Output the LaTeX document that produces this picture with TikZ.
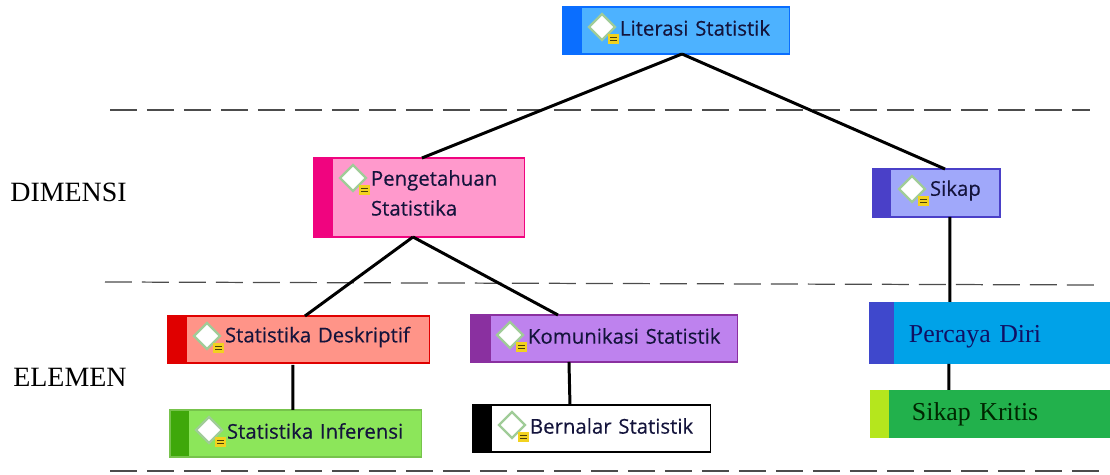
\documentclass[tikz,border=0pt]{standalone}
\usepackage{fontspec}
\setmainfont{Liberation Serif}
\setsansfont{Open Sans}
\usepackage{tikz}
\usetikzlibrary{positioning}
\definecolor{birumuda}{HTML}{4DB2FF}
\definecolor{birutua}{HTML}{0A6EFF}
\definecolor{merahmuda}{HTML}{FF99CC}
\definecolor{merahtua}{HTML}{F0047F}
\definecolor{unggumuda}{HTML}{A0A8FA}
\definecolor{unggutua}{HTML}{4A40C8}
\definecolor{salem}{HTML}{FF9488}
\definecolor{merah}{HTML}{E00000}
\definecolor{hijaumuda}{HTML}{8CE65A}
\definecolor{hijautua}{HTML}{3FA80A}
\definecolor{lembayung}{HTML}{BE82EE}
\definecolor{lembayungtua}{HTML}{8A30A0}
\definecolor{langit}{HTML}{00A2E8}
\definecolor{nila}{HTML}{3F48CC}
\definecolor{rumput}{HTML}{22B14C}
\definecolor{limau}{HTML}{B5E61D}
\definecolor{ikonhijau}{HTML}{A0CC98}
\definecolor{ikonkuning}{HTML}{F2D21F}
\definecolor{tulisan}{HTML}{14143C}
\newcommand{\baris}[2][0.05cm]{\hspace*{1.14cm}\raisebox{#1}[\height][\depth]{#2}}
\tikzset{
    kotak/.style n args={3}{rectangle, anchor=north west, inner sep=0, outer sep=0,
        align=left, fill=#1, line width=0.6pt, path picture={\fill[#2] (path picture bounding box.south west)
        rectangle ([xshift=#3]path picture bounding box.north west);}},
    isi/.style={font=\sffamily\fontsize{11.6}{17}\selectfont\addfontfeature{FakeBold=0.3}, text=tulisan},
    serif/.style={font=\rmfamily\fontsize{14.7}{17}\selectfont},
    judul/.style={font=\rmfamily\fontsize{15.9}{18}\selectfont, anchor=west, inner sep=0},
    penghubung/.style={line width=1.7pt},
    batas/.style={line width=0.7pt, black!70, dash pattern=on 0.54cm off 0.2cm},
    ikon/.pic={
        \draw[ikonhijau, line width=1.3pt, fill=white] (-13, 0) -- (0, -13) -- (13, 0)
            -- (0, 13) -- cycle;
        \fill[ikonkuning] (6, 7) rectangle (17, 17);
        \draw[black!70!ikonkuning, line width=0.7pt] (8, 10.5) -- (15, 10.5) (8, 13.5) -- (15, 13.5);
    }
}

\begin{document}
\begin{tikzpicture}[x=0.02cm, y=-0.02cm]
    \useasboundingbox (0, 0) rectangle (1110, 475);

    %garis putus
    \draw[batas] (110, 110) -- (1090, 110);
    \draw[batas] (105, 282) -- (1100, 285);
    \draw[batas] (110, 471) -- (1105, 471);

    %dimensi dan elemen
    \node[judul] (dimensi) at (10, 192) {DIMENSI};
    \node[judul] (elemen) at (13, 377) {ELEMEN};

    %kotak
    \node[kotak={birumuda}{birutua}{0.38cm}, isi, draw=birutua, text width=4.54cm, minimum height=0.94cm]
        (lit) at (563, 7) {\baris{Literasi Statistik}};
    \node[kotak={merahmuda}{merahtua}{0.38cm}, isi, draw=merahtua, text width=4.22cm, minimum height=1.58cm]
        (peng) at (314, 158) {\baris[0.09cm]{Pengetahuan}\\\baris[0.09cm]{Statistika}};
    \node[kotak={unggumuda}{unggutua}{0.36cm}, isi, draw=unggutua, text width=2.54cm, minimum height=0.96cm]
        (sikap) at (873, 169) {\baris{Sikap}};
    \node[kotak={salem}{merah}{0.38cm}, isi, draw=merah, text width=5.24cm, minimum height=0.94cm]
        (des) at (168, 316) {\baris{Statistika Deskriptif}};
    \node[kotak={hijaumuda}{hijautua}{0.38cm}, isi, draw=hijaumuda!85!black, text width=5.04cm, minimum height=0.94cm]
        (inf) at (170, 410) {\baris{Statistika Inferensi}};
    \node[kotak={lembayung}{lembayungtua}{0.4cm}, isi, draw=lembayungtua, text width=5.34cm, minimum height=0.94cm]
        (kom) at (471, 315) {\baris{Komunikasi Statistik}};
    \node[kotak={white}{black}{0.38cm}, isi, draw=black, text width=4.76cm, minimum height=0.94cm]
        (ber) at (473, 405) {\baris{Bernalar Statistik}};
    \node[kotak={langit}{nila}{0.5cm}, serif, text=tulisan!80!blue, text width=4.82cm, minimum height=1.24cm]
        (percaya) at (869, 302) {\hspace*{0.8cm}\raisebox{-0.08cm}[\height][\depth]{Percaya Diri}};
    \node[kotak={rumput}{limau}{0.38cm}, serif, text=black!85!green, text width=4.8cm, minimum height=0.96cm]
        (kritis) at (870, 390) {\hspace*{0.84cm}Sikap Kritis};

    %ikon
    \foreach \k in {lit, peng, sikap, des, inf, kom, ber}
        \pic at ([shift={(39, 20)}]\k.north west) {ikon};

    %penghubung
    \draw[penghubung] ([xshift=0.11cm]lit.south) -- ([xshift=0.05cm]peng.north);
    \draw[penghubung] ([xshift=0.11cm]lit.south) -- ([xshift=0.17cm]sikap.north);
    \draw[penghubung] ([xshift=-0.13cm]peng.south) -- ([xshift=0.12cm]des.north);
    \draw[penghubung] ([xshift=-0.13cm]peng.south) -- ([xshift=-0.93cm]kom.north);
    \draw[penghubung] ([xshift=0.27cm]sikap.south) -- ([xshift=-0.79cm]percaya.north);
    \draw[penghubung] ([xshift=-0.12cm, yshift=-0.04cm]des.south) -- ([xshift=-0.06cm]inf.north);
    \draw[penghubung] ([xshift=-0.71cm]kom.south) -- ([xshift=-0.44cm]ber.north);
    \draw[penghubung] ([xshift=-0.81cm]percaya.south) -- ([xshift=-0.82cm]kritis.north);
\end{tikzpicture}
\end{document}
